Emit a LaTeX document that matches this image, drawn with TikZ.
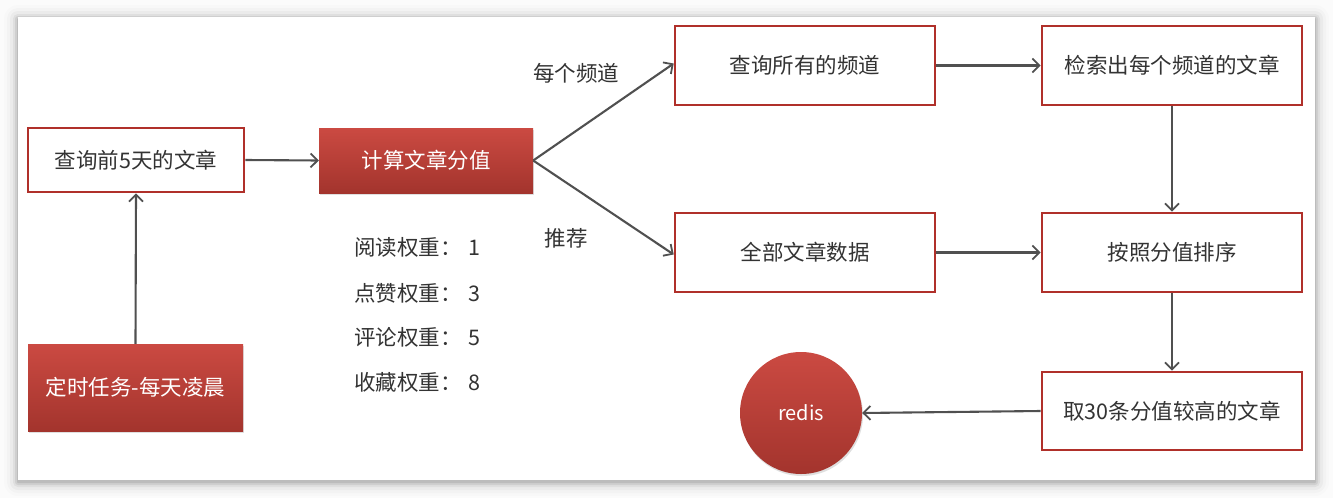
\documentclass[tikz,border=0pt]{standalone}
\usepackage{fontspec}
\newfontfamily\cjk{Noto Sans CJK SC}
\usetikzlibrary{arrows.meta,shadows}
\definecolor{bd}{HTML}{B0302A}
\definecolor{rtop}{HTML}{CB4A42}
\definecolor{rbot}{HTML}{A3342D}
\definecolor{txt}{HTML}{333333}
\definecolor{ln}{HTML}{505050}
\begin{document}
\begin{tikzpicture}[x=1pt,y=-1pt,
  font=\cjk\fontsize{21.5}{26}\selectfont,
  wbox/.style={draw=bd,line width=2.6pt,fill=white,text=txt,inner sep=0pt},
  rbox/.style={top color=rtop,bottom color=rbot,draw=none,text=white,inner sep=0pt,
     drop shadow={shadow xshift=1pt,shadow yshift=-2pt,opacity=0.25}},
  conn/.style={draw=ln,line width=2.1pt,-{Straight Barb[length=7pt,width=14pt,line width=1.8pt]}},
  lbl/.style={text=txt,inner sep=0pt}]
\useasboundingbox (0,0) rectangle (1333,498);
\fill[gray!3] (0,0) rectangle (1333,498);
\foreach \i/\o in {14/0.012,11/0.02,8/0.03,5/0.05,3/0.07,1/0.09}
  \fill[black,opacity=\o,rounded corners=\i pt] (18-\i,17-\i+2) rectangle (1315+\i,480+\i+2);
\fill[white] (18,17) rectangle (1315,480);
% nodes
\node[wbox,minimum width=216pt,minimum height=64pt] (a) at (136,160) {查询前5天的文章};
\node[rbox,minimum width=214pt,minimum height=65pt] (b) at (426,160.5) {计算文章分值};
\node[rbox,minimum width=215pt,minimum height=87pt] (c) at (135.5,387.5) {定时任务-每天凌晨};
\node[wbox,minimum width=260pt,minimum height=79pt] (d) at (805,65.5) {查询所有的频道};
\node[wbox,minimum width=260pt,minimum height=79pt] (e) at (1172,65.5) {检索出每个频道的文章};
\node[wbox,minimum width=260pt,minimum height=79pt] (f) at (805,252.5) {全部文章数据};
\node[wbox,minimum width=260pt,minimum height=79pt] (g) at (1172,252.5) {按照分值排序};
\node[wbox,minimum width=260pt,minimum height=78pt] (h) at (1172,411) {取30条分值较高的文章};
\node[circle,minimum size=122pt,inner sep=0pt,top color=rtop,bottom color=rbot,text=white,
   drop shadow={shadow xshift=1pt,shadow yshift=-2pt,opacity=0.25}] (r) at (801,413) {\fontsize{20}{24}\selectfont redis};
% labels
\node[lbl] (l1) at (576,73) {每个频道};
\node[lbl] (l2) at (566,238) {推荐};
\node[lbl,anchor=west] (w1) at (354,247) {阅读权重：\,\,1};
\node[lbl,anchor=west] (w2) at (354,293) {点赞权重：\,\,3};
\node[lbl,anchor=west] (w3) at (354,337) {评论权重：\,\,5};
\node[lbl,anchor=west] (w4) at (354,382) {收藏权重：\,\,8};
% connectors
\draw[conn] (a.east) -- (b.west);
\draw[conn] (c.north) -- (a.south);
\draw[conn] (b.east) -- ([yshift=2pt]d.west);
\draw[conn] (b.east) -- ([yshift=-2pt]f.west);
\draw[conn] (d.east) -- (e.west);
\draw[conn] (f.east) -- (g.west);
\draw[conn] (e.south) -- (g.north);
\draw[conn] (g.south) -- (h.north);
\draw[conn] (h.west) -- (r.east);
\end{tikzpicture}
\end{document}
